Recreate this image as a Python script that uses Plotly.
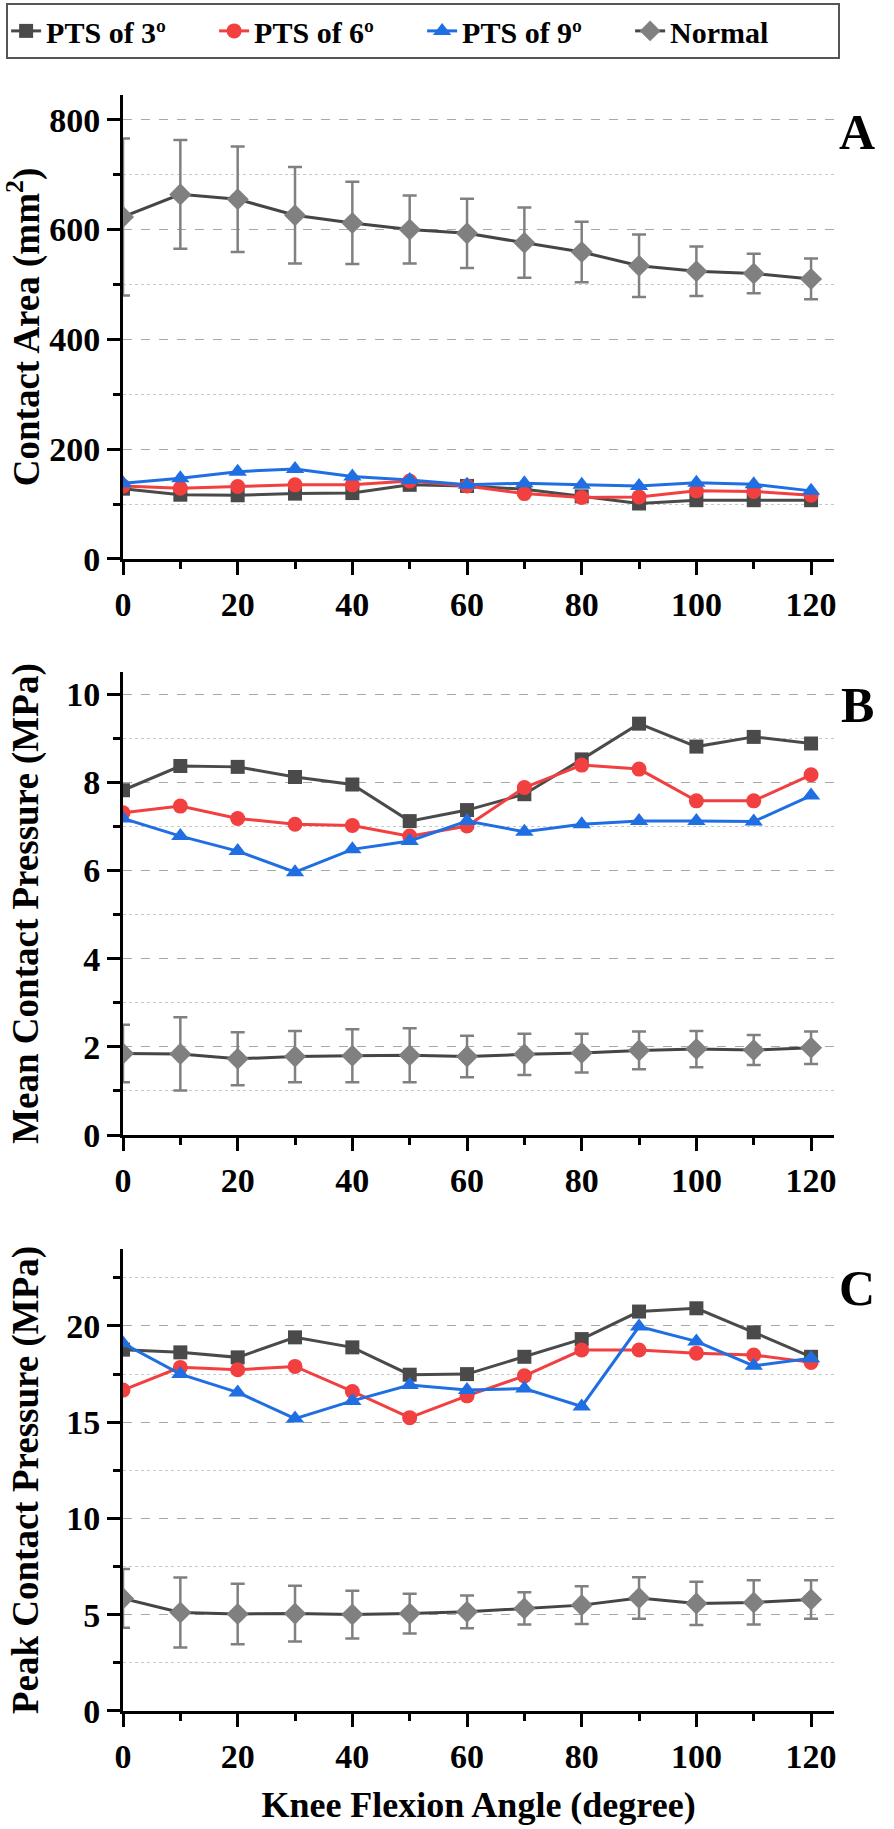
import plotly.graph_objects as go

angles = [0, 10, 20, 30, 40, 50, 60, 70, 80, 90, 100, 110, 120]

# Panel A: contact area (mm^2)
A_pts3 = [128, 117, 116, 119, 120, 135, 133, 127, 114, 101, 107, 107, 107]
A_pts6 = [133, 129, 132, 135, 135, 142, 133, 119, 112, 113, 124, 123, 116]
A_pts9 = [138, 147, 159, 164, 150, 144, 135, 138, 135, 133, 139, 136, 124]
A_norm = [623, 664, 655, 626, 612, 600, 593, 576, 559, 534, 524, 520, 510]
A_err = [143, 99, 96, 88, 75, 62, 63, 64, 55, 57, 45, 36, 37]

# Panel B: mean contact pressure (MPa)
B_pts3 = [7.82, 8.37, 8.35, 8.12, 7.95, 7.12, 7.37, 7.73, 8.52, 9.33, 8.81, 9.03, 8.88]
B_pts6 = [7.31, 7.46, 7.18, 7.05, 7.02, 6.78, 7.01, 7.88, 8.39, 8.30, 7.58, 7.58, 8.17]
B_pts9 = [7.18, 6.78, 6.44, 5.96, 6.48, 6.67, 7.12, 6.88, 7.05, 7.12, 7.12, 7.11, 7.70]
B_norm = [1.85, 1.84, 1.73, 1.78, 1.80, 1.81, 1.78, 1.83, 1.86, 1.92, 1.95, 1.93, 1.98]
B_err = [0.65, 0.83, 0.60, 0.58, 0.60, 0.61, 0.47, 0.47, 0.44, 0.43, 0.41, 0.34, 0.37]

# Panel C: peak contact pressure (MPa)
C_pts3 = [18.77, 18.63, 18.37, 19.41, 18.89, 17.47, 17.50, 18.40, 19.32, 20.75, 20.92, 19.67, 18.40]
C_pts6 = [16.67, 17.85, 17.73, 17.90, 16.60, 15.24, 16.37, 17.41, 18.75, 18.75, 18.59, 18.49, 18.11]
C_pts9 = [19.10, 17.50, 16.55, 15.19, 16.11, 16.93, 16.68, 16.75, 15.82, 19.97, 19.20, 17.93, 18.32]
C_norm = [5.85, 5.12, 5.04, 5.06, 5.01, 5.06, 5.15, 5.33, 5.50, 5.87, 5.59, 5.64, 5.79]
C_err = [1.53, 1.82, 1.57, 1.45, 1.24, 1.03, 0.85, 0.84, 0.98, 1.08, 1.12, 1.15, 1.00]

series_names = ["PTS of 3º", "PTS of 6º", "PTS of 9º", "Normal"]
y_titles = ["Contact Area (mm<sup>2</sup>)", "Mean Contact Pressure (MPa)", "Peak Contact Pressure (MPa)"]
panel_letters = ["A", "B", "C"]
x_title = "Knee Flexion Angle (degree)"

FONT = "Liberation Serif, Times New Roman, serif"
C3 = "#4a4a4a"
C6 = "#f23f3f"
C9 = "#1f6fe3"
CN_LINE = "#454545"
CN_MARK = "#808080"

panels = [
    (A_pts3, A_pts6, A_pts9, A_norm, A_err),
    (B_pts3, B_pts6, B_pts9, B_norm, B_err),
    (C_pts3, C_pts6, C_pts9, C_norm, C_err),
]

fig = go.Figure()
for i, (p3, p6, p9, pn, pe) in enumerate(panels):
    xa = "x" if i == 0 else f"x{i+1}"
    ya = "y" if i == 0 else f"y{i+1}"
    show = i == 0
    fig.add_trace(go.Scatter(x=angles, y=p3, name=series_names[0], xaxis=xa, yaxis=ya,
                             mode="lines+markers", showlegend=show, legendgroup="p3",
                             line=dict(color=C3, width=3),
                             marker=dict(symbol="square", size=14, color=C3)))
    fig.add_trace(go.Scatter(x=angles, y=p6, name=series_names[1], xaxis=xa, yaxis=ya,
                             mode="lines+markers", showlegend=show, legendgroup="p6",
                             line=dict(color=C6, width=3),
                             marker=dict(symbol="circle", size=15, color=C6)))
    fig.add_trace(go.Scatter(x=angles, y=p9, name=series_names[2], xaxis=xa, yaxis=ya,
                             mode="lines+markers", showlegend=show, legendgroup="p9",
                             line=dict(color=C9, width=3),
                             marker=dict(symbol="triangle-up", size=16, color=C9)))
    fig.add_trace(go.Scatter(x=angles, y=pn, name=series_names[3], xaxis=xa, yaxis=ya,
                             mode="lines+markers", showlegend=show, legendgroup="n",
                             line=dict(color=CN_LINE, width=3),
                             marker=dict(symbol="diamond", size=17, color=CN_MARK),
                             error_y=dict(type="data", array=pe, visible=True,
                                          color=CN_MARK, thickness=2.5, width=7)))

tickfont = dict(family=FONT, size=34, color="black", weight="bold")
ytitlefont = dict(family=FONT, size=37, color="black", weight="bold")
xtitlefont = dict(family=FONT, size=36, color="black", weight="bold")

y_domains = [[0.7129, 1.0], [0.3564, 0.6429], [0.0, 0.2859]]
y_ranges = [[0, 845], [0, 10.5], [0, 24]]
y_dticks = [200, 2, 5]
y_minor = [100, 1, 2.5]

common_x = dict(range=[0, 124], showline=True, linewidth=3, linecolor="black",
                ticks="outside", ticklen=13, tickwidth=3, tickcolor="black",
                tick0=0, dtick=20, showgrid=False, zeroline=False,
                tickfont=tickfont, automargin=False,
                minor=dict(dtick=10, tick0=0, ticks="outside", ticklen=7,
                           tickwidth=3, tickcolor="black", showgrid=False))

layout = dict(
    width=894, height=1829,
    paper_bgcolor="white", plot_bgcolor="white",
    margin=dict(l=123, r=59.5, t=95, b=118, autoexpand=False),
    showlegend=True,
    legend=dict(orientation="h", xref="paper", yref="paper",
                x=-0.1644, xanchor="left", y=1.057, yanchor="top",
                font=dict(family=FONT, size=30, color="black", weight="bold"),
                bordercolor="#555555", borderwidth=2, bgcolor="white",
                itemwidth=30, entrywidthmode="pixels", entrywidth=163,
                tracegroupgap=0),
)

for i in range(3):
    xk = "xaxis" if i == 0 else f"xaxis{i+1}"
    yk = "yaxis" if i == 0 else f"yaxis{i+1}"
    ya = "y" if i == 0 else f"y{i+1}"
    xa = "x" if i == 0 else f"x{i+1}"
    xd = dict(common_x)
    xd["anchor"] = ya
    if i == 2:
        xd["title"] = dict(text=x_title, font=xtitlefont, standoff=19)
    layout[xk] = xd
    layout[yk] = dict(domain=y_domains[i], anchor=xa, range=y_ranges[i],
                      showline=True, linewidth=3, linecolor="black",
                      ticks="outside", ticklen=13, tickwidth=3, tickcolor="black",
                      tick0=0, dtick=y_dticks[i], zeroline=False,
                      showgrid=True, gridcolor="#a8a8a8", griddash="dash", gridwidth=1.2,
                      tickfont=tickfont, automargin=False,
                      title=dict(text=y_titles[i], font=ytitlefont, standoff=17),
                      minor=dict(dtick=y_minor[i], tick0=0, ticks="outside", ticklen=7,
                                 tickwidth=3, tickcolor="black", showgrid=True,
                                 gridcolor="#c8c8c8", griddash="dot", gridwidth=1.2))

fig.update_layout(**layout)

letter_y = [0.977, 0.6225, 0.262]
for i in range(3):
    fig.add_annotation(text=panel_letters[i], xref="paper", yref="paper",
                       x=1.033, y=letter_y[i], xanchor="center", yanchor="middle",
                       showarrow=False,
                       font=dict(family=FONT, size=50, color="black", weight="bold"))

fig.write_html("out.html", config={"displayModeBar": False},
               post_script="document.body.style.margin='0px';")
